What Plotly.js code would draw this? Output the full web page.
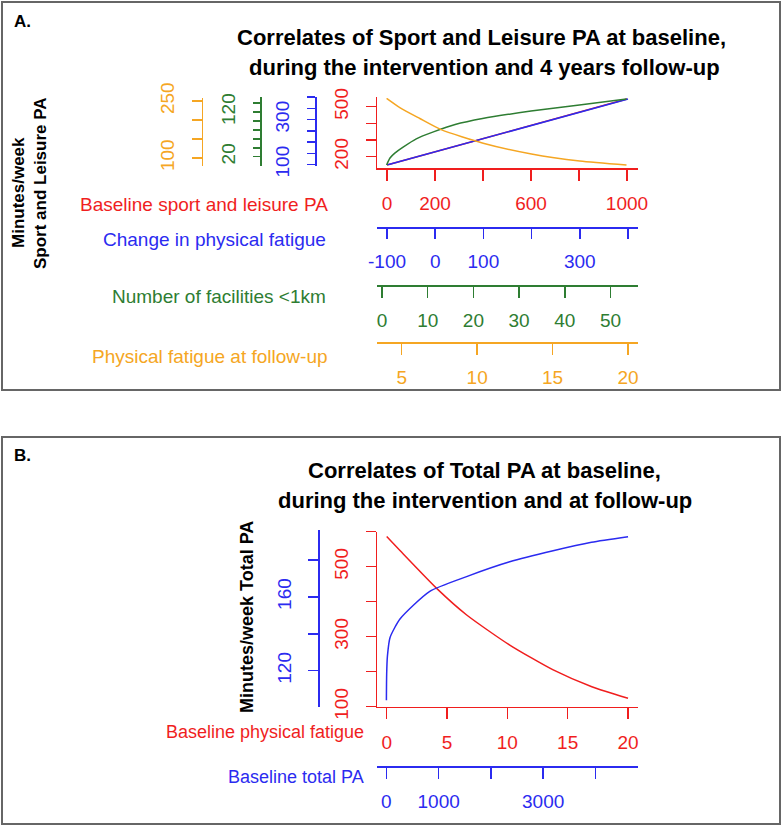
<!DOCTYPE html>
<html><head><meta charset="utf-8">
<script src="https://cdn.plot.ly/plotly-3.0.1.min.js"></script>
<style>body{margin:0;background:#fff}#chart{width:782px;height:827px}</style>
</head><body><div id="chart"></div>
<script>
// ---------- Panel A data ----------
const sportPA_x = [0, 1000];
const sportPA_y = [150, 546];
const fatigueChange_x = [-100, 400];
const fatigueChange_y = [98, 391];
const facilities_x = [1, 1.75, 2.8, 4.7, 7.5, 11.4, 16, 22, 32.6, 43.2, 53.5];
const facilities_y = [1.4, 17, 28, 42, 60, 76, 92, 105.5, 122, 135.6, 149];
const fatigueFU_x = [4, 4.9, 6.2, 7.65, 10.4, 13.6, 16.8, 19.9];
const fatigueFU_y = [257, 232, 204, 174, 139, 110.5, 92, 81.6];
// ---------- Panel B data ----------
const baseFatigue_x = [0, 1.1, 4.14, 6.63, 10.2, 13.8, 17, 20];
const baseFatigue_y = [586, 546, 438, 362, 276, 205, 157, 124];
const baseTotal_x = [0, 5, 20, 70, 260, 830, 1535, 2360, 3190, 3925, 4625];
const baseTotal_y = [104, 118, 128, 138, 148, 163, 171, 179, 185, 189.6, 192.6];

// ---------- tick values / labels ----------
const aRedX = [0, 200, 400, 600, 800, 1000], aRedXT = ['0', '200', '', '600', '', '1000'];
const aBlueX = [-100, 0, 100, 200, 300, 400], aBlueXT = ['-100', '0', '100', '', '300', ''];
const aGreenX = [0, 10, 20, 30, 40, 50], aGreenXT = ['0', '10', '20', '30', '40', '50'];
const aOrangeX = [5, 10, 15, 20], aOrangeXT = ['5', '10', '15', '20'];
const aRedY = [200, 300, 400, 500], aRedYT = ['200', '', '', '500'];
const aBlueY = [100, 150, 200, 250, 300, 350, 400], aBlueYT = ['100', '', '', '', '300', '', ''];
const aGreenY = [20, 40, 60, 80, 100, 120, 140], aGreenYT = ['20', '', '', '', '', '120', ''];
const aOrangeY = [100, 150, 200, 250], aOrangeYT = ['100', '', '', '250'];
const bRedX = [0, 5, 10, 15, 20], bRedXT = ['0', '5', '10', '15', '20'];
const bBlueX = [0, 1000, 2000, 3000, 4000], bBlueXT = ['0', '1000', '', '3000', ''];
const bRedY = [100, 200, 300, 400, 500, 600], bRedYT = ['100', '', '300', '', '500', ''];
const bBlueY = [120, 140, 160, 180], bBlueYT = ['120', '', '160', ''];

const RED = '#f01e1e', BLUE = '#2b2bf0', GREEN = '#2e7d32', ORANGE = '#f5a623';
const FONT = 'Liberation Sans, Arial, sans-serif';
const W = 782, H = 827;
const fx = p => p / W, fy = p => 1 - p / H;

function xAx(color, rangePx, valAt, ticks, texts, opt) {
  const s = (valAt[3] - valAt[1]) / (valAt[2] - valAt[0]);
  const r0 = valAt[0] + (rangePx[0] - valAt[1]) / s;
  const r1 = valAt[0] + (rangePx[1] - valAt[1]) / s;
  return Object.assign({
    domain: [fx(rangePx[0]), fx(rangePx[1])], range: [r0, r1], fixedrange: true,
    showgrid: false, zeroline: false, showline: true, linecolor: color, linewidth: 1.5,
    ticks: 'outside', ticklen: 11, tickwidth: 1.5, tickcolor: color,
    tickvals: ticks, ticktext: texts, tickfont: {family: FONT, size: 19, color: color},
    ticklabelstandoff: 7
  }, opt);
}
function yAx(color, domPx, valAt, ticks, texts, opt) {
  const s = (valAt[3] - valAt[1]) / (valAt[2] - valAt[0]);
  const r0 = valAt[0] + (domPx[1] - valAt[1]) / s;
  const r1 = valAt[0] + (domPx[0] - valAt[1]) / s;
  return Object.assign({
    domain: [fy(domPx[1]), fy(domPx[0])], range: [r0, r1], fixedrange: true,
    showgrid: false, zeroline: false, showline: true, linecolor: color, linewidth: 1.5,
    ticks: 'outside', ticklen: 10, tickwidth: 1.5, tickcolor: color, tickangle: -90,
    tickvals: ticks, ticktext: texts, tickfont: {family: FONT, size: 19, color: color},
    ticklabelstandoff: 10
  }, opt);
}

const line = (c) => ({color: c, width: 1.5, shape: 'spline', smoothing: 0.6});
const traces = [
  {x: sportPA_x, y: sportPA_y, xaxis: 'x', yaxis: 'y', mode: 'lines', line: line(RED)},
  {x: fatigueChange_x, y: fatigueChange_y, xaxis: 'x2', yaxis: 'y2', mode: 'lines', line: line(BLUE)},
  {x: facilities_x, y: facilities_y, xaxis: 'x3', yaxis: 'y3', mode: 'lines', line: line(GREEN)},
  {x: fatigueFU_x, y: fatigueFU_y, xaxis: 'x4', yaxis: 'y4', mode: 'lines', line: line(ORANGE)},
  {x: baseFatigue_x, y: baseFatigue_y, xaxis: 'x5', yaxis: 'y5', mode: 'lines', line: line(RED)},
  {x: baseTotal_x, y: baseTotal_y, xaxis: 'x6', yaxis: 'y6', mode: 'lines', line: line(BLUE)}
];

const aX = [377, 638], bX = [377, 638];
const layout = {
  width: W, height: H, margin: {l: 0, r: 0, t: 0, b: 0},
  paper_bgcolor: '#fff', plot_bgcolor: 'rgba(0,0,0,0)', showlegend: false,
  font: {family: FONT},
  xaxis: xAx(RED, aX, [0, 387, 1000, 627], aRedX, aRedXT, {anchor: 'y'}),
  xaxis2: xAx(BLUE, aX, [-100, 387, 400, 628], aBlueX, aBlueXT, {anchor: 'free', position: fy(227), ticklen: 10}),
  xaxis3: xAx(GREEN, aX, [0, 382, 50, 610.5], aGreenX, aGreenXT, {anchor: 'free', position: fy(285)}),
  xaxis4: xAx(ORANGE, aX, [5, 401.7, 20, 628], aOrangeX, aOrangeXT, {anchor: 'free', position: fy(342)}),
  yaxis: yAx(RED, [97, 168], [200, 156.7, 500, 106.7], aRedY, aRedYT, {anchor: 'x'}),
  yaxis2: yAx(BLUE, [97, 165.5], [100, 164.5, 400, 97], aBlueY, aBlueYT, {anchor: 'free', position: fx(315), ticklen: 8}),
  yaxis3: yAx(GREEN, [97, 165.5], [20, 156.7, 120, 112], aGreenY, aGreenYT, {anchor: 'free', position: fx(260), ticklen: 7}),
  yaxis4: yAx(ORANGE, [98, 166], [100, 158, 250, 101], aOrangeY, aOrangeYT, {anchor: 'free', position: fx(201.7)}),
  xaxis5: xAx(RED, bX, [0, 386.7, 20, 628], bRedX, bRedXT, {anchor: 'y5'}),
  xaxis6: xAx(BLUE, bX, [0, 386.4, 4000, 595.4], bBlueX, bBlueXT, {anchor: 'free', position: fy(766), ticklen: 11}),
  yaxis5: yAx(RED, [531.7, 706.7], [100, 706.7, 600, 531.7], bRedY, bRedYT, {anchor: 'x5'}),
  yaxis6: yAx(BLUE, [530, 706.7], [120, 670.7, 180, 560], bBlueY, bBlueYT, {anchor: 'free', position: fx(318.3)}),
  shapes: [
    {type: 'rect', xref: 'paper', yref: 'paper', x0: fx(2), x1: fx(780), y0: fy(390), y1: fy(2), line: {color: '#666', width: 2}},
    {type: 'rect', xref: 'paper', yref: 'paper', x0: fx(2), x1: fx(780), y0: fy(824), y1: fy(437), line: {color: '#666', width: 2}}
  ],
  annotations: []
};

function txt(t, x, y, opt) {
  layout.annotations.push(Object.assign({
    text: t, x: fx(x), y: fy(y), xref: 'paper', yref: 'paper', showarrow: false,
    xanchor: 'center', yanchor: 'middle', font: {family: FONT, size: 19, color: '#000'}
  }, opt));
}
const bold = (s, c) => ({family: FONT, size: s, color: c || '#000', weight: 'bold'});
const reg = (s, c) => ({family: FONT, size: s, color: c});
txt('<b>A.</b>', 12, 22, {xanchor: 'left', font: bold(17)});
txt('<b>B.</b>', 12, 455, {xanchor: 'left', font: bold(17)});
txt('<b>Correlates of Sport and Leisure PA at baseline,</b>', 482, 38, {font: bold(22)});
txt('<b>during the intervention and 4 years follow-up</b>', 484, 68, {font: bold(22)});
txt('<b>Correlates of Total PA at baseline,</b>', 485, 470, {font: bold(22)});
txt('<b>during the intervention and at follow-up</b>', 485, 500, {font: bold(22)});
txt('<b>Minutes/week</b>', 18, 193, {textangle: -90, font: bold(17)});
txt('<b>Sport and Leisure PA</b>', 40, 183, {textangle: -90, font: bold(17)});
txt('<b>Minutes/week Total PA</b>', 247, 617, {textangle: -90, font: bold(18)});
txt('Baseline sport and leisure PA', 330, 204, {xanchor: 'right', font: reg(19, RED)});
txt('Change in physical fatigue', 328, 240, {xanchor: 'right', font: reg(19, BLUE)});
txt('Number of facilities &lt;1km', 328, 297, {xanchor: 'right', font: reg(19, GREEN)});
txt('Physical fatigue at follow-up', 330, 356, {xanchor: 'right', font: reg(19, ORANGE)});
txt('Baseline physical fatigue', 366, 732, {xanchor: 'right', font: reg(18, RED)});
txt('Baseline total PA', 366, 777, {xanchor: 'right', font: reg(18, BLUE)});

Plotly.newPlot('chart', traces, layout, {staticPlot: true, displayModeBar: false});
</script>
</body></html>
